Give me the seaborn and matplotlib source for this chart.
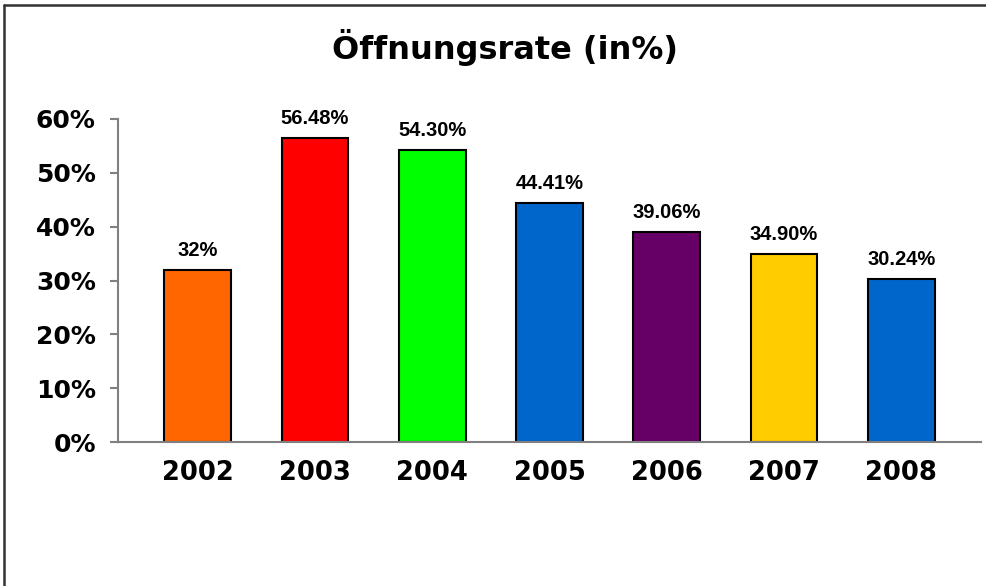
import numpy as np
import pandas as pd
import matplotlib
matplotlib.use("Agg")
import matplotlib.pyplot as plt
from matplotlib.lines import Line2D
from matplotlib.ticker import FuncFormatter
import seaborn as sns

years = ["2002", "2003", "2004", "2005", "2006", "2007", "2008"]
rates = [0.32, 0.5648, 0.5430, 0.4441, 0.3906, 0.3490, 0.3024]
labels = ["32%", "56.48%", "54.30%", "44.41%", "39.06%", "34.90%", "30.24%"]
colors = ["#FF6600", "#FF0000", "#00FF00", "#0066CC", "#660066", "#FFCC00", "#0066CC"]

df = pd.DataFrame({"Jahr": years, "Rate": rates})

sns.set_style("white")
plt.rcParams['font.family'] = ['DejaVu Sans']
plt.rcParams['text.color'] = 'black'
plt.rcParams['xtick.color'] = 'black'
plt.rcParams['ytick.color'] = 'black'

fig = plt.figure(figsize=(9.87, 5.86), dpi=100)
ax = fig.add_axes([118 / 987, 1 - 442 / 586, (981 - 118) / 987, (442 - 119) / 586])

sns.barplot(data=df, x="Jahr", y="Rate", hue="Jahr", palette=colors,
            legend=False, width=0.57, edgecolor="black", linewidth=1.5,
            saturation=1, ax=ax)

for cont, lab in zip(ax.containers, labels):
    ax.bar_label(cont, labels=[lab], padding=7, color="black",
                 fontsize=14.5, fontweight="bold", family="Liberation Sans")

ax.set_xlim(-0.68, 6.68)
ax.set_ylim(0, 0.6)
ax.set_yticks(np.arange(0, 0.61, 0.1))
ax.yaxis.set_major_formatter(FuncFormatter(lambda v, p: f"{v * 100:.0f}%"))
ax.set_xlabel("")
ax.set_ylabel("")

for side in ["top", "right"]:
    ax.spines[side].set_visible(False)
for side in ["left", "bottom"]:
    ax.spines[side].set_color("#808080")
    ax.spines[side].set_linewidth(1.5)

ax.tick_params(axis="y", direction="out", length=6, width=1.5, color="#808080",
               labelcolor="black", pad=10, labelsize=18, left=True)
ax.tick_params(axis="x", length=0, pad=13, labelsize=18.5, labelcolor="black")
for t in ax.get_xticklabels() + ax.get_yticklabels():
    t.set_fontweight("bold")

fig.text(504.5 / 987, 1 - 47 / 586, "Öffnungsrate (in%)", ha="center", va="center",
         fontsize=23, fontweight="bold", color="black")

# Rahmen oben und links
fig.add_artist(Line2D([4.5 / 987, 1], [1 - 4.5 / 586] * 2, color="#333333", lw=1.8,
                      transform=fig.transFigure))
fig.add_artist(Line2D([4.5 / 987] * 2, [0, 1 - 4.5 / 586], color="#333333", lw=1.8,
                      transform=fig.transFigure))

fig.savefig("out.png", dpi=100)
